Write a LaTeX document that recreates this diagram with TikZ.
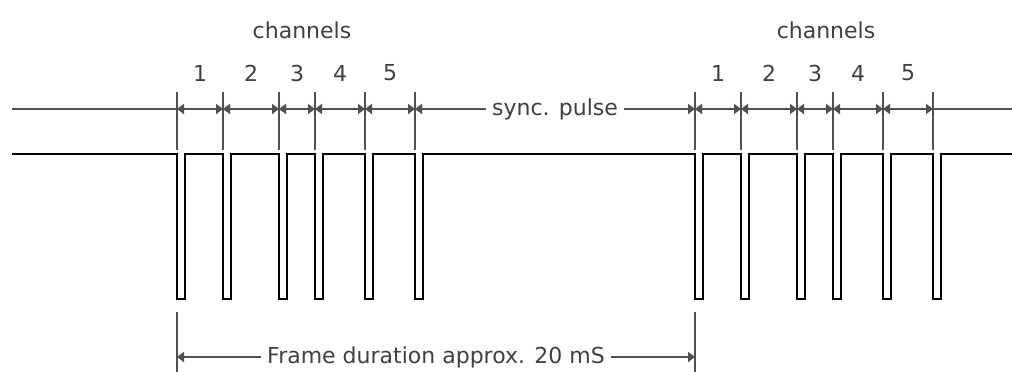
\documentclass[tikz,border=0pt]{standalone}
\usepackage{fontspec}
\setmainfont{DejaVu Sans}
\usetikzlibrary{arrows.meta, calc}
\definecolor{dimgray}{HTML}{505050}
\definecolor{txtgray}{HTML}{404040}
\tikzset{
    signal/.style={line width=2pt, draw=black},
    tick/.style={line width=2pt, draw=dimgray},
    dim/.style={{Triangle[length=7pt,width=10pt]}-{Triangle[length=7pt,width=10pt]},
        line width=2pt, draw=dimgray},
    lbl/.style={font=\fontsize{22}{26}\selectfont, text=txtgray, inner sep=4pt},
    num/.style={font=\fontsize{22}{26}\selectfont, text=txtgray, inner sep=0pt},
    gap/.style={lbl, fill=white, inner sep=6pt}
}

\begin{document}
\begin{tikzpicture}[x=1pt, y=-1pt]
\useasboundingbox (0,0) rectangle (1012,372);

%% LAYOUT (pixels, y downwards):
%% y=109: channel dimension line, ticks 92..150
%% y=154: signal high, y=299: signal low
%% y=357: frame dimension line, ticks 312..372

%% ── TICK POSITIONS ──────────────────────────────────────────────
\foreach \f/\dx in {1/0, 2/518} {
    \foreach \i/\x in {0/177, 1/223, 2/279, 3/315, 4/365, 5/415} {
        \coordinate (t\f\i) at (\x+\dx, 109);
        \draw[tick] (\x+\dx, 92) -- (\x+\dx, 150);
    }
}
\coordinate (lineL) at (12, 109);
\coordinate (lineR) at (1012, 109);

%% ── CHANNEL LABELS ──────────────────────────────────────────────
\node[lbl] (chan1) at (302, 30) {channels};
\node[lbl] (chan2) at (826, 30) {channels};
\foreach \f in {1, 2} {
    \foreach \i [evaluate=\i as \j using int(\i-1)] in {1,...,5} {
        \node[num] (n\f\i) at ($(t\f\j)!0.5!(t\f\i) + (0,-36)$) {\i};
    }
}

%% ── CHANNEL DIMENSION LINES ─────────────────────────────────────
\draw[dim, {-}] (lineL) -- (t10);
\foreach \f in {1, 2} {
    \foreach \i [evaluate=\i as \j using int(\i-1)] in {1,...,5} {
        \draw[dim] (t\f\j) -- (t\f\i);
    }
}
\draw[dim] (t15) -- node[gap] (sync) {sync. pulse} (t20);
\draw[dim, -{}] (t25) -- (lineR);

%% ── PPM SIGNAL ──────────────────────────────────────────────────
\draw[signal] (12,154)
    \foreach \x in {177, 223, 279, 315, 365, 415, 695, 741, 797, 833, 883, 933} {
        -- (\x,154) -- (\x,299) -- (\x+8,299) -- (\x+8,154)
    } -- (1012,154);

%% ── FRAME DURATION ──────────────────────────────────────────────
\coordinate (fL) at (177, 357);
\coordinate (fR) at (695, 357);
\draw[tick] (177, 312) -- (177, 372);
\draw[tick] (695, 312) -- (695, 372);
\draw[dim] (fL) -- node[gap] (frame) {Frame duration approx. 20 mS} (fR);

\end{tikzpicture}
\end{document}
